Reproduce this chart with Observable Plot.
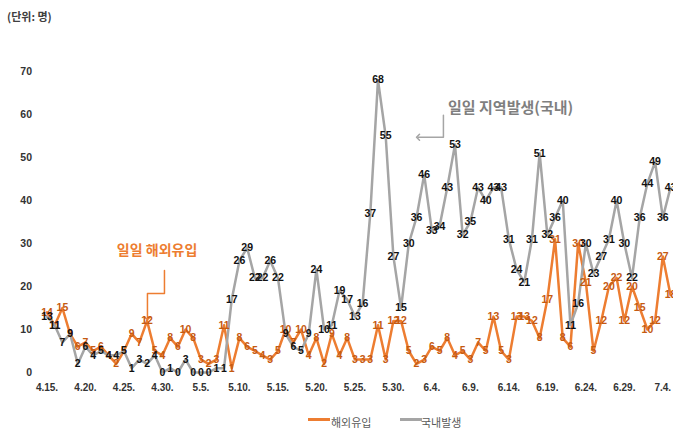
<!DOCTYPE html>
<html><head><meta charset="utf-8">
<script src="https://cdn.jsdelivr.net/npm/d3@7"></script>
<script src="https://cdn.jsdelivr.net/npm/@observablehq/plot@0.6"></script>
<style>
body{margin:0;background:#fff;font-family:"Noto Sans CJK KR","Noto Sans",sans-serif;overflow:hidden;}
#title{height:30px;position:relative;}
#title span{position:absolute;left:7px;top:8px;font-size:11px;font-weight:bold;color:#404040;line-height:16px;}
#chart{height:375px;}
#legend{position:relative;height:26px;overflow:hidden;}
#legend .sw{position:absolute;top:13px;height:3px;}
#legend .lb{position:absolute;top:9px;font-size:11px;line-height:16px;color:#595959;}
</style></head><body>
<div id="title"><span>(단위: 명)</span></div>
<div id="chart"></div>
<div id="legend"></div>
<script>
// Daily counts from 4.15 to 7.5 (one value per day)
const imported = [14,11,15,9,6,7,5,6,4,2,5,9,7,12,5,4,8,6,10,8,3,2,3,11,1,8,6,5,4,3,5,10,7,10,4,8,2,9,4,8,3,3,3,11,3,12,12,5,2,3,6,5,8,4,5,3,7,5,13,5,3,13,13,12,8,17,31,8,6,30,21,5,12,20,22,12,20,15,10,12,27,18];
const local = [13,11,7,9,2,6,4,5,4,4,5,1,3,2,4,0,1,0,3,0,0,0,1,1,17,26,29,22,22,26,22,9,6,5,9,24,10,11,19,17,13,16,37,68,55,27,15,30,36,46,33,34,43,53,32,35,43,40,43,43,31,24,21,31,51,32,36,40,11,16,30,23,27,31,40,30,22,36,44,49,36,43];
const seriesNames = ["해외유입", "국내발생"];
const seriesColors = ["#ED7D31", "#A5A5A5"];
const tickLabels = ["4.15.","4.20.","4.25.","4.30.","5.5.","5.10.","5.15.","5.20.","5.25.","5.30.","6.4.","6.9.","6.14.","6.19.","6.24.","6.29.","7.4."];
const yTicks = [0,10,20,30,40,50,60,70];
const titleText = "(단위: 명)";
const notes = [
  {day: 14.3, value: 28.4, text: "일일 해외유입", color: "#ED7D31", size: 14, anchor: "middle"},
  {day: 52.1, value: 61.4, text: "일일 지역발생(국내)", color: "#7F7F7F", size: 15, anchor: "start"}
];
const orangePointer = [[15.26, 23.7], [15.26, 18.4], [13.05, 18.4], [13.05, 12.6]];
const grayPointer = [[51.5, 59.8], [51.5, 54.7], [48.2, 54.7]];

const start = new Date(Date.UTC(2020, 3, 15));
const dates = d3.utcDay.range(start, d3.utcDay.offset(start, imported.length));
const dayAt = i => new Date(+start + i * 864e5);
const rows = dates.map((date, i) => ({date, imported: imported[i], local: local[i]}));
const tickDates = tickLabels.map(s => { const [m, d] = s.split("."); return new Date(Date.UTC(2020, +m - 1, +d)); });
const labelOf = new Map(tickDates.map((d, i) => [+d, tickLabels[i]]));

const chart = Plot.plot({
  width: 673, height: 375,
  marginTop: 41, marginBottom: 33, marginLeft: 46.5, marginRight: 3,
  style: {fontFamily: "'Liberation Sans', Arial, sans-serif", background: "#fff", overflow: "visible"},
  x: {type: "utc", domain: [dates[0], dates[dates.length - 1]], axis: null},
  y: {domain: [0, 70], axis: null},
  marks: [
    Plot.axisY({ticks: yTicks, tickSize: 0, tickPadding: 15, fontSize: 10.5, fontWeight: "bold", fill: "#333", label: null}),
    Plot.axisX({ticks: tickDates, tickFormat: d => labelOf.get(+d), tickSize: 0, tickPadding: 11, fontSize: 10, fontWeight: "bold", fill: "#333", label: null}),
    Plot.line(rows, {x: "date", y: "imported", stroke: seriesColors[0], strokeWidth: 2.5}),
    Plot.line(rows, {x: "date", y: "local", stroke: seriesColors[1], strokeWidth: 2.5}),
    Plot.line(orangePointer, {x: p => dayAt(p[0]), y: p => p[1], stroke: "#ED7D31", strokeWidth: 1.5, markerEnd: "arrow"}),
    Plot.line(grayPointer, {x: p => dayAt(p[0]), y: p => p[1], stroke: "#A5A5A5", strokeWidth: 1.5, markerEnd: "arrow"}),
    Plot.text(rows, {x: "date", y: "imported", text: d => String(d.imported), fill: "#C55A11", fontWeight: "bold", fontSize: 10.5}),
    Plot.text(rows, {x: "date", y: "local", text: d => String(d.local), fill: "#111", fontWeight: "bold", fontSize: 10.5}),
    ...notes.map(n => Plot.text([n], {x: d => dayAt(d.day), y: "value", text: "text", fill: n.color, fontSize: n.size, fontWeight: "bold", textAnchor: n.anchor, fontFamily: "'Noto Sans CJK KR', sans-serif"}))
  ]
});
document.getElementById("chart").appendChild(chart);
document.querySelector("#title span").textContent = titleText;

const legend = document.getElementById("legend");
const lx = [[308, 331], [400, 421]];
seriesNames.forEach((name, i) => {
  const sw = document.createElement("span");
  sw.className = "sw"; sw.style.left = lx[i][0] + "px"; sw.style.width = "22px"; sw.style.background = seriesColors[i];
  const lb = document.createElement("span");
  lb.className = "lb"; lb.style.left = lx[i][1] + "px"; lb.textContent = name;
  legend.appendChild(sw); legend.appendChild(lb);
});
</script>
</body></html>
